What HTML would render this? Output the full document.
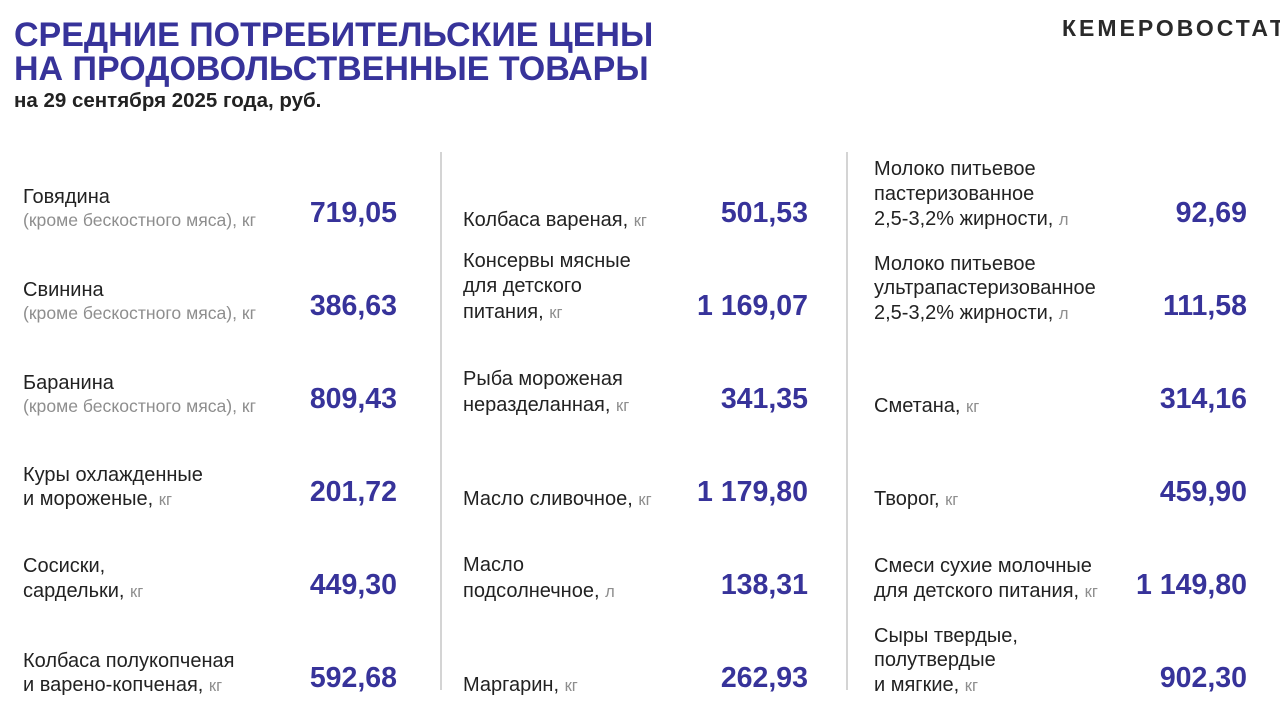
<!DOCTYPE html>
<html><head><meta charset="utf-8">
<style>
html,body{margin:0;padding:0;}
body{width:1280px;height:712px;position:relative;overflow:hidden;background:#fff;font-family:"Liberation Sans",Arial,sans-serif;}
.t{position:absolute;left:14px;color:#37339a;font-weight:bold;font-size:34px;line-height:35px;white-space:nowrap;}
.sub{position:absolute;left:14px;top:90px;font-weight:bold;font-size:20.5px;line-height:22px;color:#222;white-space:nowrap;}
.brand{position:absolute;left:1062px;top:15px;font-weight:bold;font-size:23px;line-height:26px;letter-spacing:3px;color:#2a2a2a;white-space:nowrap;}
.vl{position:absolute;width:2px;background:#d4d4d4;top:152px;height:538px;}
.lb{position:absolute;font-size:20px;line-height:24px;color:#222;white-space:nowrap;}
.lb .g{color:#8e8e8e;font-size:16.5px;}
.lb .gg{color:#8e8e8e;font-size:17.6px;}
.v{position:absolute;font-size:28.5px;line-height:32px;font-weight:bold;color:#37339a;white-space:nowrap;text-align:right;}
</style></head><body>
<div class="t" style="top:17.5px;">СРЕДНИЕ ПОТРЕБИТЕЛЬСКИЕ ЦЕНЫ</div>
<div class="t" style="top:52px;">НА ПРОДОВОЛЬСТВЕННЫЕ ТОВАРЫ</div>
<div class="sub">на 29 сентября 2025 года, руб.</div>
<div class="brand">КЕМЕРОВОСТАТ</div>

<div class="vl" style="left:440px;"></div>
<div class="vl" style="left:846px;"></div>

<!-- Column 1 -->
<div class="lb" style="left:23px;bottom:480px;line-height:23px;">Говядина<br><span class="gg">(кроме бескостного мяса), кг</span></div>
<div class="v" style="right:883px;top:196.6px;">719,05</div>

<div class="lb" style="left:23px;bottom:387px;line-height:23px;">Свинина<br><span class="gg">(кроме бескостного мяса), кг</span></div>
<div class="v" style="right:883px;top:289.6px;">386,63</div>

<div class="lb" style="left:23px;bottom:294px;line-height:23px;">Баранина<br><span class="gg">(кроме бескостного мяса), кг</span></div>
<div class="v" style="right:883px;top:382.6px;">809,43</div>

<div class="lb" style="left:23px;bottom:200px;">Куры охлажденные<br>и мороженые, <span class="g">кг</span></div>
<div class="v" style="right:883px;top:475.6px;">201,72</div>

<div class="lb" style="left:23px;bottom:107px;line-height:25px;">Сосиски,<br>сардельки, <span class="g">кг</span></div>
<div class="v" style="right:883px;top:568.6px;">449,30</div>

<div class="lb" style="left:23px;bottom:14px;">Колбаса полукопченая<br>и варено-копченая, <span class="g">кг</span></div>
<div class="v" style="right:883px;top:661.6px;">592,68</div>

<!-- Column 2 -->
<div class="lb" style="left:463px;bottom:479px;">Колбаса вареная, <span class="g">кг</span></div>
<div class="v" style="right:472px;top:196.6px;">501,53</div>

<div class="lb" style="left:463px;bottom:386px;line-height:25.5px;">Консервы мясные<br>для детского<br>питания, <span class="g">кг</span></div>
<div class="v" style="right:472px;top:289.6px;">1 169,07</div>

<div class="lb" style="left:463px;bottom:293px;line-height:25.5px;">Рыба мороженая<br>неразделанная, <span class="g">кг</span></div>
<div class="v" style="right:472px;top:382.6px;">341,35</div>

<div class="lb" style="left:463px;bottom:200px;">Масло сливочное, <span class="g">кг</span></div>
<div class="v" style="right:472px;top:475.6px;">1 179,80</div>

<div class="lb" style="left:463px;bottom:107px;line-height:25.5px;">Масло<br>подсолнечное, <span class="g">л</span></div>
<div class="v" style="right:472px;top:568.6px;">138,31</div>

<div class="lb" style="left:463px;bottom:14px;">Маргарин, <span class="g">кг</span></div>
<div class="v" style="right:472px;top:661.6px;">262,93</div>

<!-- Column 3 -->
<div class="lb" style="left:874px;bottom:479px;line-height:25px;">Молоко питьевое<br>пастеризованное<br>2,5-3,2% жирности, <span class="g">л</span></div>
<div class="v" style="right:33px;top:196.6px;">92,69</div>

<div class="lb" style="left:874px;bottom:386px;line-height:24.5px;">Молоко питьевое<br>ультрапастеризованное<br>2,5-3,2% жирности, <span class="g">л</span></div>
<div class="v" style="right:33px;top:289.6px;">111,58</div>

<div class="lb" style="left:874px;bottom:293px;">Сметана, <span class="g">кг</span></div>
<div class="v" style="right:33px;top:382.6px;">314,16</div>

<div class="lb" style="left:874px;bottom:200px;">Творог, <span class="g">кг</span></div>
<div class="v" style="right:33px;top:475.6px;">459,90</div>

<div class="lb" style="left:874px;bottom:107px;line-height:25px;">Смеси сухие молочные<br>для детского питания, <span class="g">кг</span></div>
<div class="v" style="right:33px;top:568.6px;">1 149,80</div>

<div class="lb" style="left:874px;bottom:14px;line-height:24.5px;">Сыры твердые,<br>полутвердые<br>и мягкие, <span class="g">кг</span></div>
<div class="v" style="right:33px;top:661.6px;">902,30</div>
</body></html>
